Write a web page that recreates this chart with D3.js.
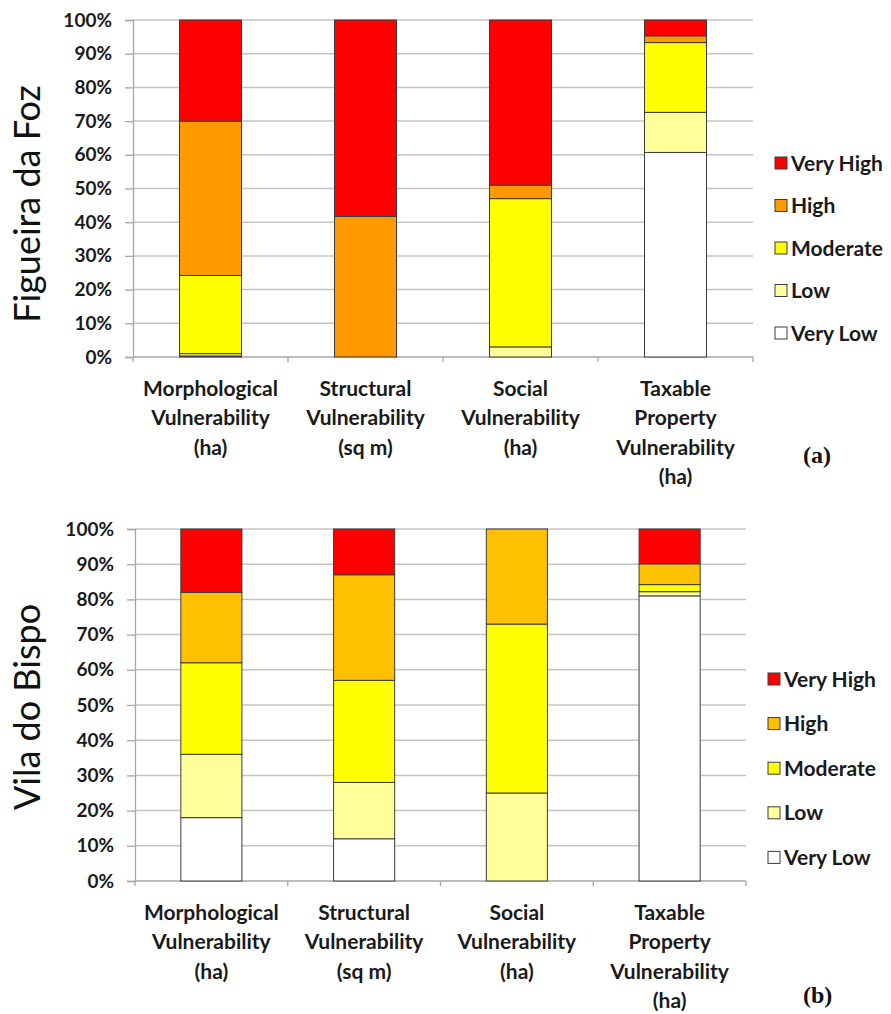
<!DOCTYPE html>
<html>
<head>
<meta charset="utf-8">
<script src="https://cdn.jsdelivr.net/npm/d3@7"></script>
<style>
  body { margin: 0; background: #fff; }
  svg { display: block; }
</style>
</head>
<body>
<svg id="chart" width="891" height="1014"></svg>
<script>
// categories (x axis), drawn on several lines
const categories = ['Morphological', 'Structural', 'Social', 'Taxable'];
const categoryLines = [
  ['Morphological', 'Vulnerability', '(ha)'],
  ['Structural', 'Vulnerability', '(sq m)'],
  ['Social', 'Vulnerability', '(ha)'],
  ['Taxable', 'Property', 'Vulnerability', '(ha)']
];
const levels = ['Very Low', 'Low', 'Moderate', 'High', 'Very High'];
const yTicks = [0, 10, 20, 30, 40, 50, 60, 70, 80, 90, 100];

// (a) Figueira da Foz, % per class
const figVeryLow  = [0.3, 0, 0, 60.7];
const figLow      = [0.7, 0, 3, 11.9];
const figModerate = [23.2, 0, 44, 20.7];
const figHigh     = [45.8, 41.7, 4, 2];
const figVeryHigh = [30, 58.3, 49, 4.7];

// (b) Vila do Bispo, % per class
const vilaVeryLow  = [18, 12, 0, 81];
const vilaLow      = [18, 16, 25, 1.2];
const vilaModerate = [26, 29, 48, 2];
const vilaHigh     = [20, 30, 27, 5.9];
const vilaVeryHigh = [18, 13, 0, 9.9];

const figColors  = ['#ffffff', '#ffff99', '#ffff00', '#ff9900', '#ff0000'];
const vilaColors = ['#ffffff', '#ffff99', '#ffff00', '#ffc000', '#ff0000'];

const sansFont = 'Lato, "Open Sans", sans-serif';

function buildRows(series) {
  return categories.map(function(c, i) {
    let row = {cat: c};
    levels.forEach(function(l, j) { row[l] = series[j][i]; });
    return row;
  });
}

const svg = d3.select('#chart');

function drawPanel(opt) {
  let g = svg.append('g');
  let x = d3.scaleBand().domain(categories)
    .range([opt.left, opt.right]).paddingInner(0.6).paddingOuter(0.3);
  let y = d3.scaleLinear().domain([0, 100]).range([opt.bottom, opt.top]);

  // gridlines
  g.append('g').selectAll('line')
    .data(yTicks.filter(d => d > 0))
    .join('line')
    .attr('x1', opt.left).attr('x2', opt.right)
    .attr('y1', d => y(d)).attr('y2', d => y(d))
    .attr('stroke', '#c4c4c4').attr('stroke-width', 1.5);

  // y axis
  let yAxis = d3.axisLeft(y).tickValues(yTicks).tickFormat(d => d + '%')
    .tickSize(8).tickPadding(13);
  let ya = g.append('g').attr('transform', `translate(${opt.left},0)`).call(yAxis);
  ya.select('.domain').attr('stroke', '#a6a6a6').attr('stroke-width', 1.3);
  ya.selectAll('.tick line').attr('stroke', '#a6a6a6').attr('stroke-width', 1.3);
  ya.selectAll('.tick text')
    .style('font-family', sansFont).style('font-weight', 'bold')
    .style('font-size', '19px').attr('fill', '#1a1a1a');

  // x axis line + category boundary ticks
  g.append('line')
    .attr('x1', opt.left).attr('x2', opt.right)
    .attr('y1', opt.bottom).attr('y2', opt.bottom)
    .attr('stroke', '#a6a6a6').attr('stroke-width', 1.3);
  let bounds = [opt.left].concat(categories.map(c => x(c) - x.step() * 0.3 + x.step()));
  g.append('g').selectAll('line').data(bounds).join('line')
    .attr('x1', d => d).attr('x2', d => d)
    .attr('y1', opt.bottom).attr('y2', opt.bottom + 5)
    .attr('stroke', '#a6a6a6').attr('stroke-width', 1.3);

  // stacked bars
  let stacked = d3.stack().keys(levels)(buildRows(opt.series));
  g.append('g').selectAll('g').data(stacked).join('g')
    .attr('fill', (d, i) => opt.colors[i])
    .selectAll('rect').data(d => d.filter(p => p[1] - p[0] > 0)).join('rect')
    .attr('x', d => x(d.data.cat))
    .attr('width', x.bandwidth())
    .attr('y', d => y(d[1]))
    .attr('height', d => y(d[0]) - y(d[1]))
    .attr('stroke', '#3c3c3c').attr('stroke-width', 1);

  // category labels
  categoryLines.forEach(function(lines, i) {
    let cx = x(categories[i]) + x.bandwidth() / 2;
    g.append('text')
      .attr('text-anchor', 'middle')
      .style('font-family', sansFont).style('font-weight', 'bold')
      .style('font-size', '21px').attr('fill', '#1a1a1a')
      .selectAll('tspan').data(lines).join('tspan')
      .attr('x', cx)
      .attr('y', (d, k) => opt.bottom + 38.5 + k * 29.5)
      .text(d => d);
  });

  // y title
  g.append('text')
    .attr('transform', `translate(${opt.titleX},${opt.titleY}) rotate(-90)`)
    .attr('text-anchor', 'middle')
    .style('font-family', sansFont).style('font-size', '36px').attr('fill', '#111')
    .text(opt.title);

  // legend (top item = Very High)
  let leg = g.append('g');
  levels.slice().reverse().forEach(function(l, k) {
    let idx = levels.length - 1 - k;
    let ly = opt.legendTop + k * opt.legendStep;
    leg.append('rect')
      .attr('x', opt.legendX).attr('y', ly - 6)
      .attr('width', 12).attr('height', 12)
      .attr('fill', opt.colors[idx]).attr('stroke', '#3c3c3c').attr('stroke-width', 1);
    leg.append('text')
      .attr('x', opt.legendX + 16).attr('y', ly + 7.5)
      .style('font-family', sansFont).style('font-weight', 'bold')
      .style('font-size', '21px').attr('fill', '#1a1a1a')
      .text(l);
  });

  // panel letter
  svg.append('text')
    .attr('x', opt.letterX).attr('y', opt.letterY)
    .style('font-family', '"Liberation Serif", "DejaVu Serif", serif')
    .style('font-weight', 'bold').style('font-size', '24px').attr('fill', '#111')
    .text(opt.letter);
}

drawPanel({
  series: [figVeryLow, figLow, figModerate, figHigh, figVeryHigh],
  colors: figColors,
  left: 133, right: 753, top: 20, bottom: 357,
  title: 'Figueira da Foz', titleX: 40, titleY: 204,
  legendX: 775, legendTop: 163, legendStep: 42.5,
  letter: '(a)', letterX: 803, letterY: 463
});

drawPanel({
  series: [vilaVeryLow, vilaLow, vilaModerate, vilaHigh, vilaVeryHigh],
  colors: vilaColors,
  left: 135, right: 746, top: 529, bottom: 881,
  title: 'Vila do Bispo', titleX: 40, titleY: 707,
  legendX: 768, legendTop: 679, legendStep: 44.6,
  letter: '(b)', letterX: 803, letterY: 1003
});
</script>
</body>
</html>
